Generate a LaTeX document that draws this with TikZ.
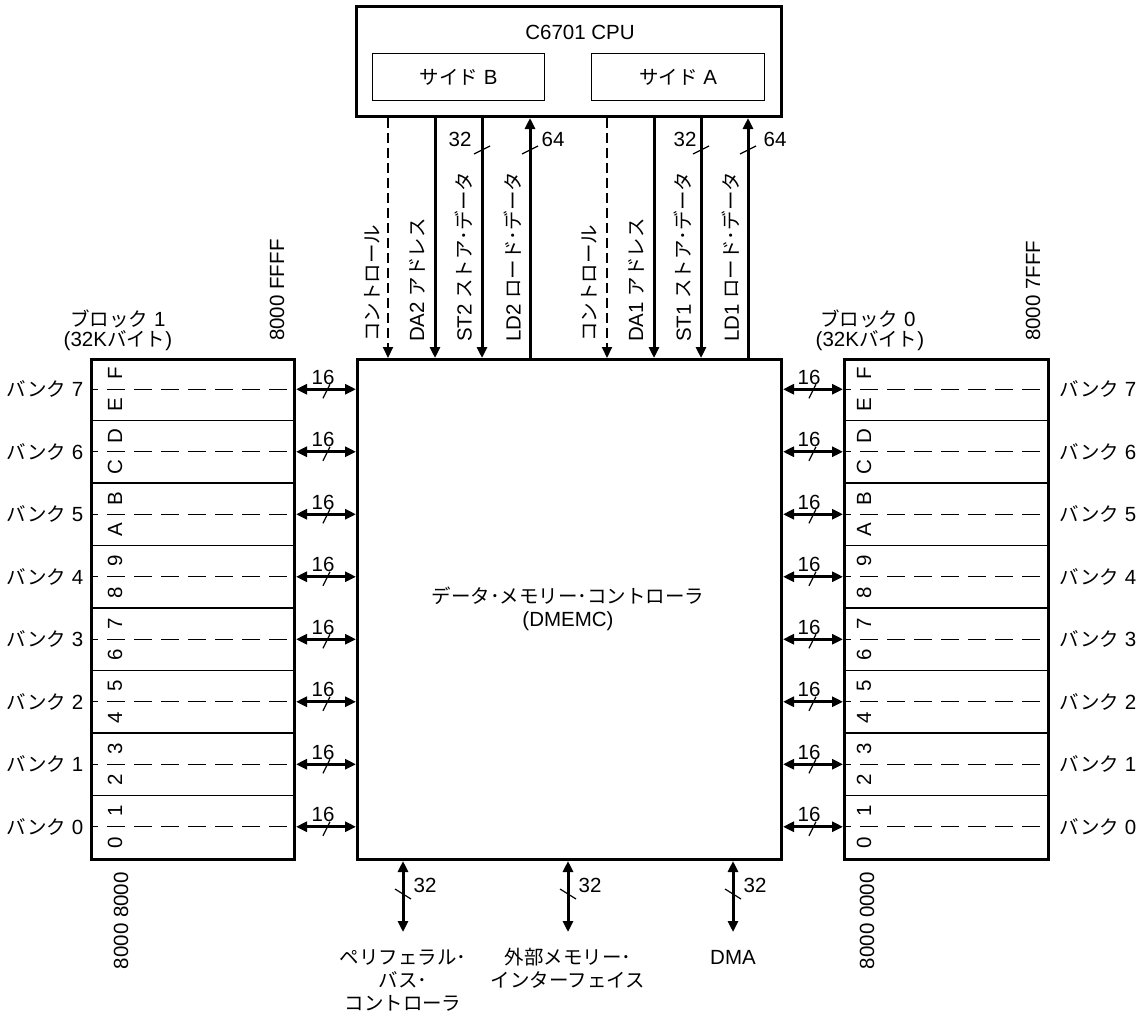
\documentclass[tikz,border=0pt]{standalone}
\usepackage{fontspec}
\setmainfont{Liberation Sans}
\newfontfamily\jp[Scale=0.95]{Noto Sans CJK JP}
\usetikzlibrary{arrows.meta}
\begin{document}
\begin{tikzpicture}[x=1pt,y=-1pt,
  every node/.style={font=\fontsize{20.5}{23}\selectfont, inner sep=0pt},
  jpml/.style={align=center, font=\fontsize{20.5}{23}\selectfont\jp},
  bigbox/.style={draw, line width=3pt, anchor=north west},
  smallbox/.style={draw, line width=1.3pt, anchor=north west},
  thinline/.style={line width=1.2pt},
  dashline/.style={line width=1.2pt, dash pattern=on 18pt off 9pt, dash phase=10pt},
  arr/.style={line width=3pt, -{Triangle[length=11pt,width=10pt]}},
  darr/.style={line width=2pt, dash pattern=on 10pt off 5pt, -{Triangle[length=11pt,width=10pt]}},
  dbl/.style={line width=3pt, {Triangle[length=11pt,width=10pt]}-{Triangle[length=11pt,width=10pt]}},
  vlab/.style={rotate=90, anchor=west},
]
\useasboundingbox (0,0) rectangle (1143,1015);

% CPU
\node[bigbox, minimum width=425pt, minimum height=110pt] (cpu) at (355,5) {};
\node (cputitle) at (580,32) {C6701 CPU};
\node[smallbox, minimum width=172pt, minimum height=47pt] (sideB) at (372,53) {{\jp サイド} B};
\node[smallbox, minimum width=173pt, minimum height=47pt] (sideA) at (591,53) {{\jp サイド} A};

% DMEMC
\node[bigbox, minimum width=424pt, minimum height=500pt] (dmemc) at (356,358) {};
\node[align=center] (dmemctext) at (568,609) {{\jp データ･メモリー･コントローラ}\\(DMEMC)};

% memory blocks
\node[bigbox, minimum width=203pt, minimum height=500pt] (blk1) at (90,358) {};
\node[bigbox, minimum width=204pt, minimum height=500pt] (blk0) at (843,358) {};

\foreach \j in {1,...,7} {
  \draw[thinline] (90,{358+62.5*\j}) -- (293,{358+62.5*\j});
  \draw[thinline] (843,{358+62.5*\j}) -- (1047,{358+62.5*\j});
}

\foreach \t [count=\i from 0] in {0,1,2,3,4,5,6,7,8,9,A,B,C,D,E,F} {
  \node[rotate=90] (dl\i) at (115,{858-31.25*\i-15.625}) {\t};
  \node[rotate=90] (dr\i) at (864,{858-31.25*\i-15.625}) {\t};
}

\foreach \k in {0,...,7} {
  \pgfmathsetmacro\yy{858-62.5*\k-31.25}
  \draw[dashline] (90,\yy) -- (293,\yy);
  \draw[dashline] (843,\yy) -- (1047,\yy);
  \coordinate (bl\k) at (293,\yy);
  \coordinate (br\k) at (843,\yy);
  \draw[dbl] (bl\k -| blk1.east) -- (bl\k -| dmemc.west);
  \draw[dbl] (br\k -| blk0.west) -- (br\k -| dmemc.east);
  \node (nl\k) at (323,{\yy-12}) {16};
  \node (nr\k) at (809,{\yy-12}) {16};
  \draw[thinline] (323,{\yy+9}) -- (330,{\yy-5});
  \draw[thinline] (809,{\yy+9}) -- (816,{\yy-5});
  \node (bankL\k) at (45,\yy) {{\jp バンク} \k};
  \node (bankR\k) at (1098,\yy) {{\jp バンク} \k};
}

% block labels and addresses
\node (blk1lab) at (118,319) {{\jp ブロック} 1};
\node (blk1size) at (118,341) {(32K{\jp バイト})};
\node (blk0lab) at (868,319) {{\jp ブロック} 0};
\node (blk0size) at (870,341) {(32K{\jp バイト})};
\node[vlab] (a1top) at (277,341) {8000 FFFF};
\node[vlab] (a0top) at (1033,341) {8000 7FFF};
\node[rotate=90, anchor=east] (a1bot) at (121,872) {8000 8000};
\node[rotate=90, anchor=east] (a0bot) at (867,872) {8000 0000};

% vertical buses CPU <-> DMEMC
\coordinate (vA) at (388,0);
\coordinate (vB) at (435,0);
\coordinate (vC) at (482,0);
\coordinate (vD) at (530,0);
\coordinate (vE) at (607,0);
\coordinate (vF) at (654,0);
\coordinate (vG) at (701,0);
\coordinate (vH) at (748,0);
\draw[darr] (cpu.south -| vA) -- (dmemc.north -| vA);
\draw[arr] (cpu.south -| vB) -- (dmemc.north -| vB);
\draw[arr] (cpu.south -| vC) -- (dmemc.north -| vC);
\draw[arr] (dmemc.north -| vD) -- (cpu.south -| vD);
\draw[darr] (cpu.south -| vE) -- (dmemc.north -| vE);
\draw[arr] (cpu.south -| vF) -- (dmemc.north -| vF);
\draw[arr] (cpu.south -| vG) -- (dmemc.north -| vG);
\draw[arr] (dmemc.north -| vH) -- (cpu.south -| vH);

\draw[thinline] (474,154) -- (490,146);
\draw[thinline] (522,154) -- (538,146);
\draw[thinline] (693,154) -- (709,146);
\draw[thinline] (740,154) -- (756,146);
\node (w1) at (460,139) {32};
\node (w2) at (553,139) {64};
\node (w3) at (685,139) {32};
\node (w4) at (775,139) {64};

\node[vlab] (lA) at (372,342) {\jp コントロール};
\node[vlab] (lB) at (417,342) {DA2 {\jp アドレス}};
\node[vlab] (lC) at (464,342) {ST2 {\jp ストア･データ}};
\node[vlab] (lD) at (513,342) {LD2 {\jp ロード･データ}};
\node[vlab] (lE) at (589,342) {\jp コントロール};
\node[vlab] (lF) at (636,342) {DA1 {\jp アドレス}};
\node[vlab] (lG) at (683,342) {ST1 {\jp ストア･データ}};
\node[vlab] (lH) at (731,342) {LD1 {\jp ロード･データ}};

% bottom buses
\coordinate (p1) at (403,932);
\coordinate (p2) at (568,932);
\coordinate (p3) at (733,932);
\draw[dbl] (dmemc.south -| p1) -- (p1);
\draw[dbl] (dmemc.south -| p2) -- (p2);
\draw[dbl] (dmemc.south -| p3) -- (p3);
\draw[thinline] (395,889) -- (411,899);
\draw[thinline] (560,889) -- (576,899);
\draw[thinline] (725,889) -- (741,899);
\node (b1) at (425,885) {32};
\node (b2) at (590,885) {32};
\node (b3) at (755,885) {32};

\node[jpml] (pbc) at (403,980) {ペリフェラル･\\バス･\\コントローラ};
\node[jpml] (emif) at (568,968.5) {外部メモリー･\\インターフェイス};
\node (dma) at (733,957) {DMA};
\end{tikzpicture}
\end{document}
